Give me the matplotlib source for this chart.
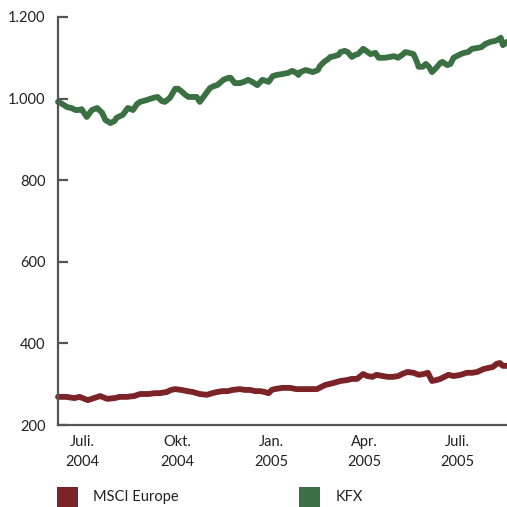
import pandas as pd
import matplotlib
matplotlib.use("Agg")
import matplotlib.pyplot as plt
from matplotlib.patches import Rectangle

start = pd.Timestamp("2004-06-07")
end_day = 437

# KFX index, days counted from start
kfx_days = [0, 4, 9, 13, 17, 20, 23, 28, 33, 38,
            43, 46, 51, 55, 57, 63, 68, 73, 77, 80,
            87, 93, 97, 101, 104, 109, 114, 117, 121, 124,
            127, 131, 135, 138, 143, 148, 152, 155, 161, 166,
            168, 172, 177, 181, 185, 189, 194, 199, 205, 209,
            213, 218, 224, 228, 232, 234, 236, 241, 244, 248,
            253, 255, 259, 263, 265, 269, 273, 275, 279, 282,
            286, 289, 292, 297, 300, 304, 309, 312, 318, 323,
            327, 331, 335, 338, 342, 346, 349, 351, 355, 358,
            361, 364, 368, 372, 374, 379, 382, 385, 388, 392,
            395, 399, 403, 408, 412, 416, 421, 425, 428, 431,
            433, 437]
kfx_values = [992, 987, 979, 977, 972, 972, 974, 955, 972, 977,
              965, 948, 940, 945, 953, 960, 977, 972, 987, 992,
              997, 1002, 1004, 994, 992, 1002, 1024, 1024, 1016, 1009,
              1004, 1004, 1004, 992, 1009, 1026, 1031, 1033, 1046, 1051,
              1051, 1038, 1038, 1041, 1046, 1041, 1033, 1046, 1041, 1055,
              1058, 1060, 1063, 1068, 1063, 1058, 1065, 1070, 1068, 1065,
              1070, 1080, 1090, 1097, 1102, 1104, 1107, 1114, 1117, 1114,
              1102, 1107, 1109, 1122, 1117, 1109, 1112, 1100, 1100, 1102,
              1104, 1100, 1107, 1114, 1112, 1109, 1092, 1078, 1078, 1085,
              1078, 1065, 1075, 1087, 1090, 1082, 1085, 1100, 1104, 1109,
              1112, 1114, 1122, 1124, 1126, 1134, 1139, 1141, 1144, 1149,
              1131, 1139]

# MSCI Europe index
msci_days = [0, 8, 16, 21, 29, 35, 41, 48, 55, 60,
             67, 74, 80, 88, 94, 99, 106, 110, 114, 120,
             126, 131, 138, 145, 150, 155, 160, 165, 170, 177,
             182, 187, 192, 197, 201, 205, 208, 211, 218, 226,
             232, 236, 244, 252, 260, 268, 275, 281, 286, 291,
             297, 301, 306, 310, 316, 321, 326, 331, 335, 340,
             346, 351, 356, 360, 364, 368, 372, 376, 380, 385,
             392, 398, 403, 408, 414, 419, 423, 427, 430, 433,
             437]
msci_values = [269, 269, 266, 269, 261, 266, 271, 264, 266, 269,
               269, 271, 276, 276, 278, 278, 281, 286, 288, 286,
               283, 281, 276, 274, 278, 281, 283, 283, 286, 288,
               286, 286, 283, 283, 281, 278, 286, 288, 291, 291,
               288, 288, 288, 288, 298, 303, 308, 310, 313, 313,
               325, 320, 318, 323, 320, 318, 318, 320, 325, 330,
               328, 323, 325, 328, 308, 310, 313, 318, 323, 320,
               323, 328, 328, 330, 337, 340, 342, 350, 352, 345,
               345]

tick_dates = ["2004-07-01", "2004-10-01", "2005-01-01", "2005-04-01", "2005-07-01"]
tick_labels = ["Juli.\n2004", "Okt.\n2004", "Jan.\n2005", "Apr.\n2005", "Juli.\n2005"]
y_ticks = [200, 400, 600, 800, 1000, 1200]
y_labels = ["200", "400", "600", "800", "1.000", "1.200"]

red = "#7b2327"
green = "#3a7042"
axis_grey = "#555555"

plt.rcParams["font.family"] = ["Lato", "DejaVu Sans"]

fig = plt.figure(figsize=(5.07, 5.07), dpi=100)
ax = fig.add_axes([0.1144, 0.1617, 0.8856, 0.8048])

kfx_dates = start + pd.to_timedelta(kfx_days, unit="D")
msci_dates = start + pd.to_timedelta(msci_days, unit="D")
ax.plot(kfx_dates, kfx_values, color=green, lw=4.2, solid_joinstyle="round",
        solid_capstyle="round", clip_on=False)
ax.plot(msci_dates, msci_values, color=red, lw=4.2, solid_joinstyle="round",
        solid_capstyle="round", clip_on=False)

ax.set_xlim(start, start + pd.Timedelta(days=end_day))
ax.set_ylim(200, 1200)

for side in ["top", "right"]:
    ax.spines[side].set_visible(False)
for side in ["left", "bottom"]:
    ax.spines[side].set_color(axis_grey)
    ax.spines[side].set_linewidth(1.6)

ax.set_yticks(y_ticks)
ax.set_yticklabels(y_labels, fontsize=10.5, color="#222222")
ax.tick_params(axis="y", direction="in", length=7.5, width=1.6, color=axis_grey, pad=9)

ax.set_xticks(pd.to_datetime(tick_dates))
ax.set_xticklabels(tick_labels, fontsize=10.5, color="#222222", linespacing=1.6)
ax.tick_params(axis="x", length=0, pad=7)

# legend swatches along the bottom edge
fig.add_artist(Rectangle((57 / 507, 0), 21 / 507, 20 / 507, transform=fig.transFigure,
                         facecolor=red, edgecolor="none"))
fig.text(93 / 507, 10 / 507, "MSCI Europe", fontsize=10.5, color="#222222", va="center")
fig.add_artist(Rectangle((299 / 507, 0), 21 / 507, 20 / 507, transform=fig.transFigure,
                         facecolor=green, edgecolor="none"))
fig.text(336 / 507, 10 / 507, "KFX", fontsize=10.5, color="#222222", va="center")

fig.savefig("out.png", dpi=100)
